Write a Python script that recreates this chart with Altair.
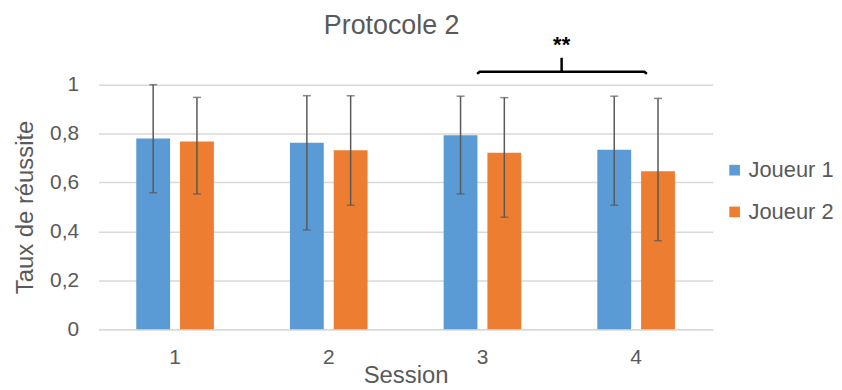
import altair as alt
import pandas as pd

sessions = ["1", "2", "3", "4"]
players = ["Joueur 1", "Joueur 2"]
j1_mean = [0.780, 0.763, 0.793, 0.734]
j1_lo = [0.558, 0.406, 0.553, 0.507]
j1_hi = [1.000, 0.955, 0.953, 0.953]
j2_mean = [0.768, 0.732, 0.722, 0.646]
j2_lo = [0.553, 0.507, 0.458, 0.362]
j2_hi = [0.948, 0.955, 0.947, 0.944]

# significance bracket between sessions 3 and 4
bracket_x = [2.966, 2.982, 4.055, 4.071]
bracket_y = [1.044, 1.053, 1.053, 1.044]
stem_x = [3.516]
stem_y0 = [1.053]
stem_y1 = [1.110]
star_label = ["**"]
star_y = [1.132]

FONT = "Liberation Sans"
GREY = "#595959"

rows = []
for i, s in enumerate(sessions):
    rows.append({"Session": s, "Joueur": players[0], "mean": j1_mean[i], "lo": j1_lo[i], "hi": j1_hi[i]})
    rows.append({"Session": s, "Joueur": players[1], "mean": j2_mean[i], "lo": j2_lo[i], "hi": j2_hi[i]})
df = pd.DataFrame(rows)

ydom = alt.Scale(domain=[0, 1])
x = alt.X("Session:N", title="Session",
          scale=alt.Scale(paddingInner=0.495, paddingOuter=0.246),
          axis=alt.Axis(labelAngle=0, labelPadding=18, titlePadding=-4, ticks=False,
                        tickSize=0, domainColor="#d9d9d9", domainWidth=1.5))
xo = alt.XOffset("Joueur:N", sort=players, scale=alt.Scale(paddingInner=0.227, paddingOuter=0))
yaxis = alt.Axis(values=[0, 0.2, 0.4, 0.6, 0.8, 1],
                 labelExpr="replace(format(datum.value, '~g'), '.', ',')",
                 domain=False, ticks=False, tickSize=0, labelPadding=20, titlePadding=12,
                 gridColor="#d9d9d9", gridWidth=1.5)

bars = alt.Chart(df).mark_bar().encode(
    x=x, xOffset=xo,
    y=alt.Y("mean:Q", title="Taux de réussite", scale=ydom, axis=yaxis),
    color=alt.Color("Joueur:N", scale=alt.Scale(domain=players, range=["#5B9BD5", "#ED7D31"]),
                    legend=alt.Legend(title=None, orient="none", legendX=629, legendY=75,
                                      symbolType="square", symbolSize=115, symbolStrokeWidth=0,
                                      rowPadding=20, padding=0, labelOffset=3,
                                      labelFontSize=22, labelColor=GREY, labelFont=FONT)),
)
err = alt.Chart(df).mark_rule(color=GREY, strokeWidth=1.5).encode(
    x=x, xOffset=xo,
    y=alt.Y("lo:Q", title="Taux de réussite", scale=ydom), y2="hi:Q")
cap_lo = alt.Chart(df).mark_tick(color=GREY, size=8, thickness=1.5, orient="horizontal").encode(
    x=x, xOffset=xo, y=alt.Y("lo:Q", title="Taux de réussite", scale=ydom))
cap_hi = alt.Chart(df).mark_tick(color=GREY, size=8, thickness=1.5, orient="horizontal").encode(
    x=x, xOffset=xo, y=alt.Y("hi:Q", title="Taux de réussite", scale=ydom))

main = alt.layer(bars, err, cap_lo, cap_hi)

qx = alt.Scale(domain=[0.5, 4.5])
bdf = pd.DataFrame({"bx": bracket_x, "by": bracket_y, "o": list(range(len(bracket_x)))})
bracket = alt.Chart(bdf).mark_line(color="black", strokeWidth=2.5).encode(
    x=alt.X("bx:Q", scale=qx, axis=None),
    y=alt.Y("by:Q", title="Taux de réussite", scale=ydom),
    order="o:Q")
sdf = pd.DataFrame({"sx": stem_x, "sy0": stem_y0, "sy1": stem_y1})
stem = alt.Chart(sdf).mark_rule(color="black", strokeWidth=2.5).encode(
    x=alt.X("sx:Q", scale=qx, axis=None),
    y=alt.Y("sy0:Q", title="Taux de réussite", scale=ydom), y2="sy1:Q")
tdf = pd.DataFrame({"sx": stem_x, "ty": star_y, "t": star_label})
star = alt.Chart(tdf).mark_text(fontSize=22, fontWeight="bold", color="black", font=FONT,
                                baseline="alphabetic").encode(
    x=alt.X("sx:Q", scale=qx, axis=None),
    y=alt.Y("ty:Q", title="Taux de réussite", scale=ydom),
    text="t:N")

chart = alt.layer(main, bracket, stem, star).resolve_scale(x="independent").properties(
    width=618, height=246,
    padding={"left": 5, "top": 2, "right": 0, "bottom": 0},
    title=alt.TitleParams("Protocole 2", fontSize=27, color=GREY, font=FONT, fontWeight="normal",
                          anchor="middle", frame="group", offset=-5, dx=-14),
).configure_view(stroke=None).configure_axis(
    labelFont=FONT, titleFont=FONT, labelFontSize=21, titleFontSize=24,
    labelColor=GREY, titleColor=GREY, titleFontWeight="normal",
)

chart.save("out.html", embed_options={"renderer": "svg", "actions": False})
